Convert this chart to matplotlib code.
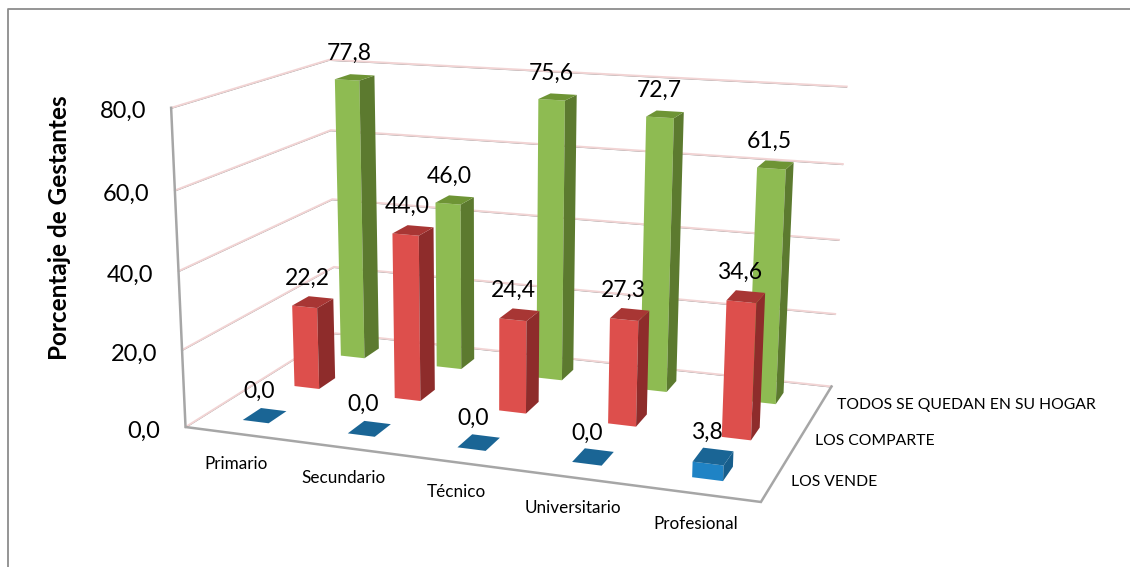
import numpy as np
import matplotlib
matplotlib.use('Agg')
import matplotlib.pyplot as plt
from matplotlib.patches import Polygon

categories = ['Primario', 'Secundario', 'Técnico', 'Universitario', 'Profesional']
series_names = ['LOS VENDE', 'LOS COMPARTE', 'TODOS SE QUEDAN EN SU HOGAR']
los_vende = [0.0, 0.0, 0.0, 0.0, 3.8]
los_comparte = [22.2, 44.0, 24.4, 27.3, 34.6]
todos_hogar = [77.8, 46.0, 75.6, 72.7, 61.5]
z_ticks = [0, 20, 40, 60, 80]

# (front, side, top) colours per series
colours = [('#1F83C5', '#175E8C', '#1A6595'),
           ('#DD4F4C', '#8E2C2B', '#A83634'),
           ('#8EBB52', '#5C7A2F', '#6E9435')]

# Camera calibration: box corners (cat, series, value) and where they sit in pixels
box_pts = [(0, 0, 0), (5, 0, 0), (5, 3, 0), (0, 3, 0),
           (0, 0, 80), (0, 3, 80), (5, 3, 80),
           (0, 0, 40), (0, 3, 40), (5, 3, 40)]
pix_pts = [(185, 428), (760, 503), (832, 385), (335, 333),
           (171, 107), (328, 60), (847, 87),
           (180, 270), (333, 200), (839, 240)]


def fit_camera(world, pixels):
    rows = []
    rhs = []
    for (x, y, z), (u, v) in zip(world, pixels):
        rows.append([x, y, z, 1, 0, 0, 0, 0, -u * x, -u * y, -u * z])
        rows.append([0, 0, 0, 0, x, y, z, 1, -v * x, -v * y, -v * z])
        rhs += [u, v]
    p = np.linalg.lstsq(np.array(rows, float), np.array(rhs, float), rcond=None)[0]
    return np.append(p, 1).reshape(3, 4)


cam = fit_camera(box_pts, pix_pts)


def project(x, y, z):
    u, v, w = cam @ np.array([x, y, z, 1.0])
    return u / w, v / w


def face(pts, color):
    ax.add_patch(Polygon([project(*p) for p in pts], closed=True, facecolor=color,
                         edgecolor='none', zorder=3))


def grid_line(pts):
    xy = np.array([project(*p) for p in pts])
    ax.plot(xy[:, 0], xy[:, 1] + 0.8, color='#8C8C8C', lw=0.5, zorder=1)
    ax.plot(xy[:, 0], xy[:, 1], color='#F2D4D4', lw=1.4, zorder=1)


fig = plt.figure(figsize=(11.30, 5.67), dpi=100)
ax = fig.add_axes([0, 0, 1, 1])
ax.set_xlim(0, 1130)
ax.set_ylim(567, 0)
ax.axis('off')
plt.rcParams['font.family'] = ['Lato', 'DejaVu Sans']

# chart frame, right side is cropped away in the original
ax.plot([7.5, 7.5, 1130], [567, 9, 9], color='#8C8C8C', lw=1.3, zorder=0)

# walls
for z in z_ticks:
    grid_line([(0, 0, z), (0, 3, z), (5, 3, z)])

# axis edges
edge = np.array([project(*p) for p in [(0, 0, 80), (0, 0, 0), (5, 0, 0), (5, 3, 0)]])
ax.plot(edge[:, 0], edge[:, 1], color='#A6A6A6', lw=1.8, zorder=2, solid_joinstyle='miter')

# bars, back row first
half_w = 0.125
half_d = 0.17
rows = [los_vende, los_comparte, todos_hogar]
for s in [2, 1, 0]:
    front_c, side_c, top_c = colours[s]
    for i, val in enumerate(rows[s]):
        x0, x1 = i + 0.5 - half_w, i + 0.5 + half_w
        y0, y1 = s + 0.5 - half_d, s + 0.5 + half_d
        if val > 0:
            face([(x0, y0, 0), (x1, y0, 0), (x1, y0, val), (x0, y0, val)], front_c)
            face([(x1, y0, 0), (x1, y1, 0), (x1, y1, val), (x1, y0, val)], side_c)
        face([(x0, y0, val), (x1, y0, val), (x1, y1, val), (x0, y1, val)], top_c)
        lx, ly = project(i + 0.5, s + 0.5, val)
        ax.text(lx - 6, ly - 24, f'{val:.1f}'.replace('.', ','), fontsize=16.5,
                ha='center', va='center', color='black', zorder=5)

# value ticks
for z in z_ticks:
    tx, ty = project(0, 0, z)
    ax.text(tx - 25, ty + 4, f'{z:.1f}'.replace('.', ','), fontsize=17,
            ha='right', va='center', color='black')

# category labels
for i, name in enumerate(categories):
    tx, ty = project(i + 0.5, 0, 0)
    ax.text(tx - 1, ty + 30, name, fontsize=12.3, ha='center', va='center', color='black')

# series labels
for s, name in enumerate(series_names):
    tx, ty = project(5, s + 0.5, 0)
    ax.text(tx + 16, ty + 2, name, fontsize=11.3, ha='left', va='center', color='black')

ax.text(60, 228, 'Porcentaje de Gestantes', fontsize=17.5, fontweight='bold',
        rotation=90, ha='center', va='center', color='black')

fig.savefig('out.png', dpi=100)
